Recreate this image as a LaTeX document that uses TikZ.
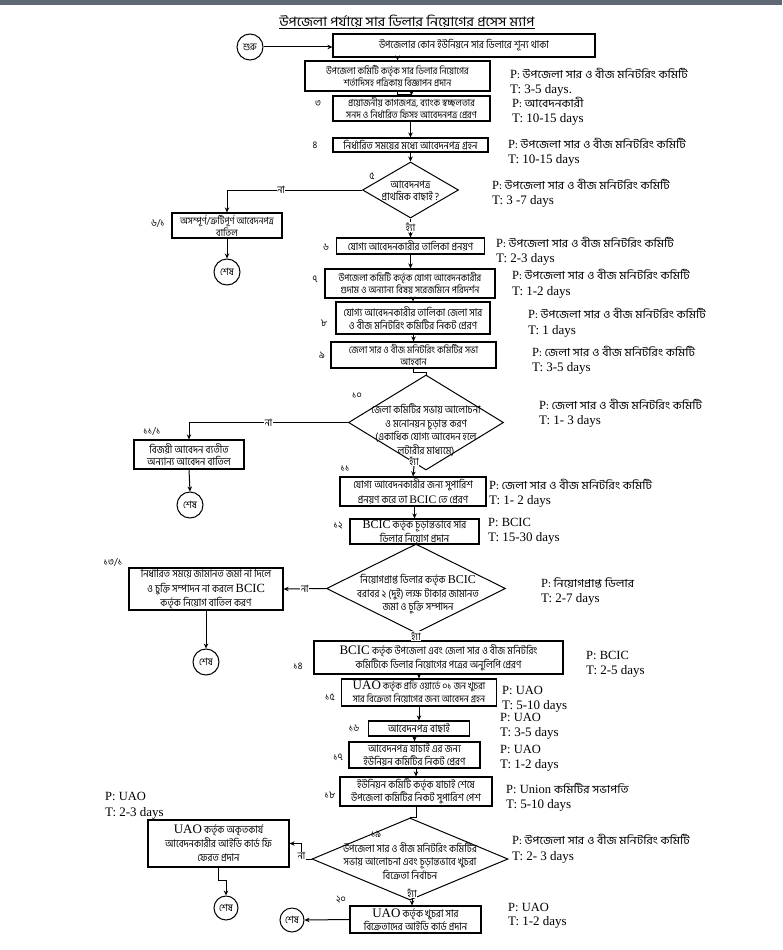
\documentclass[tikz,border=0pt]{standalone}
\usepackage{fontspec}
\setmainfont{Liberation Serif}
\newfontfamily\bn[Script=Bengali,FakeStretch=0.9]{Hind Siliguri}
\newfontfamily\bnw[Script=Bengali,FakeStretch=1.1]{Hind Siliguri}
\usetikzlibrary{arrows.meta,shapes.geometric,calc}
\newcommand\bs{\bn\fontsize{10.5}{12.5}\selectfont}
\newcommand\bss{\bn\fontsize{9.8}{12}\selectfont}
\newcommand\bp{\bnw\fontsize{11}{13}\selectfont}
\newcommand\lat[2][11]{{\rmfamily\fontsize{#1}{#1}\selectfont #2}}
\begin{document}
\begin{tikzpicture}[x=1pt,y=-1pt,
  box/.style={draw, line width=1.2pt, inner sep=0pt, align=center, font=\bs},
  dia/.style={draw, diamond, line width=1pt, inner sep=0pt},
  dtxt/.style={align=center, inner sep=0pt, font=\bs},
  term/.style={draw, circle, line width=1pt, minimum size=26pt, inner sep=0pt, font=\bn\fontsize{10}{10}\selectfont},
  conn/.style={line width=1pt},
  arr/.style={conn, -{Stealth[length=5pt,width=4.5pt]}},
  yn/.style={fill=white, inner sep=0.6pt, font=\bn\fontsize{10}{10}\selectfont},
  num/.style={inner sep=0pt, font=\bn\fontsize{10}{10}\selectfont},
  plab/.style={anchor=base west, inner sep=0pt, font=\fontsize{12.5}{13}\selectfont},
  tlab/.style={anchor=base west, inner sep=0pt, font=\fontsize{13}{14}\selectfont}]
\useasboundingbox (0,0) rectangle (782,950);
\fill[fill={rgb,255:red,96;green,104;blue,118}] (0,0) rectangle (782,5);

\node[inner sep=0pt, font=\bnw\fontsize{13}{15}\selectfont] (title) at (407,22) {\underline{উপজেলা পর্যায়ে সার ডিলার নিয়োগের প্রসেস ম্যাপ}};

% terminals
\node[term] (start) at (250,47) {শুরু};
\node[term] (end1) at (227,272) {শেষ};
\node[term] (end2) at (190,505) {শেষ};
\node[term] (end3) at (206,662) {শেষ};
\node[term, minimum size=24pt] (end4) at (226,908) {শেষ};
\node[term, minimum size=24pt] (end5) at (292,920) {শেষ};

% boxes
\node[box, minimum width=262, minimum height=23] (b1) at (464,45.5) {উপজেলার কোন ইউনিয়নে সার ডিলারে শূন্য থাকা};
\node[box, font=\bss, minimum width=185, minimum height=30] (b2) at (397.5,76) {উপজেলা কমিটি কর্তৃক সার ডিলার নিয়োগের\\শর্তাদিসহ পত্রিকায় বিজ্ঞাপন প্রদান};
\node[box, font=\bss, minimum width=157, minimum height=25] (b3) at (411.5,108.5) {প্রয়োজনীয় কাগজপত্র, ব্যাংক স্বচ্ছলতার\\সনদ ও নির্ধারিত ফিসহ আবেদনপত্র প্রেরণ};
\node[box, minimum width=155, minimum height=14] (b4) at (410.5,145) {নির্ধারিত সময়ের মধ্যে আবেদনপত্র গ্রহন};
\node[dia, minimum width=96, minimum height=56] (d5) at (410.5,190) {};
\node[dtxt] (d5t) at (410.5,191) {আবেদনপত্র\\প্রাথমিক বাছাই ?};
\node[box, font=\bss, minimum width=110, minimum height=25] (b61) at (227,225.5) {অসম্পূর্ণ/ত্রুটিপূর্ণ আবেদনপত্র\\বাতিল};
\node[box, minimum width=148, minimum height=16] (b6) at (410.5,246) {যোগ্য আবেদনকারীর তালিকা প্রনয়ণ};
\node[box, font=\bss, minimum width=170, minimum height=29] (b7) at (410,283.5) {উপজেলা কমিটি কর্তৃক যোগ্য আবেদনকারীর\\গুদাম ও অন্যান্য বিষয় সরেজমিনে পরিদর্শন};
\node[box, minimum width=154, minimum height=32] (b8) at (413,318) {যোগ্য আবেদনকারীর তালিকা জেলা সার\\ও বীজ মনিটরিং কমিটির নিকট প্রেরণ};
\node[box, font=\bss, minimum width=165, minimum height=26] (b9) at (413.5,355) {জেলা সার ও বীজ মনিটরিং কমিটির সভা\\আহবান};
\node[dia, minimum width=155, minimum height=95] (d10) at (426,422.5) {};
\node[dtxt, font=\bn\fontsize{10.5}{13.5}\selectfont] (d10t) at (426,430) {জেলা  কমিটির সভায় আলোচনা\\ও মনোনয়ন চূড়ান্ত করণ\\(একাধিক যোগ্য আবেদন হলে\\লটারীর মাধ্যমে)};
\node[box, minimum width=110, minimum height=29] (b111) at (189,454.5) {বিজয়ী আবেদন ব্যতীত\\অন্যান্য আবেদন বাতিল};
\node[box, font=\bn\fontsize{10.5}{14.5}\selectfont, minimum width=146, minimum height=29] (b11) at (413,491.5) {যোগ্য আবেদনকারীর জন্য সুপারিশ\\প্রনয়ণ করে তা \lat[11.5]{BCIC} তে প্রেরণ};
\node[box, font=\bn\fontsize{10.5}{13.5}\selectfont, minimum width=129, minimum height=25] (b12) at (414.5,531.5) {\lat[12]{BCIC} কর্তৃক চূড়ান্তভাবে সার\\ডিলার নিয়োগ প্রদান};
\node[dia, minimum width=179, minimum height=89] (d13) at (416,588.5) {};
\node[dtxt, font=\bn\fontsize{10.5}{13.5}\selectfont] (d13t) at (418,594) {নিয়োগপ্রাপ্ত ডিলার কর্তৃক \lat[12]{BCIC}\\বরাবর ২ (দুই)  লক্ষ টাকার জামানত\\জমা ও চুক্তি সম্পাদন};
\node[box, font=\bn\fontsize{10.5}{14.5}\selectfont, minimum width=154, minimum height=42] (b131) at (206,589) {নির্ধারিত সময়ে জামানত জমা না দিলে\\ও চুক্তি সম্পাদন না করলে \lat[12.5]{BCIC}\\কর্তৃক নিয়োগ বাতিল করণ};
\node[box, font=\bn\fontsize{10.5}{14}\selectfont, minimum width=249, minimum height=33] (b14) at (438.5,657.5) {\lat[13]{BCIC} কর্তৃক উপজেলা এবং জেলা সার ও বীজ মনিটরিং\\কমিটিকে ডিলার নিয়োগের পত্রের অনুলিপি প্রেরণ};
\node[box, font=\bn\fontsize{9.8}{13}\selectfont, minimum width=155, minimum height=27] (b15) at (419,692.5) {\lat[13]{UAO} কর্তৃক প্রতি ওয়ার্ডে ০১ জন খুচরা\\সার বিক্রেতা নিয়োগের জন্য আবেদন গ্রহন};
\node[box, minimum width=101, minimum height=15] (b16) at (419,728.5) {আবেদনপত্র বাছাই};
\node[box, minimum width=131, minimum height=26] (b17) at (414.5,755) {আবেদনপত্র যাচাই এর জন্য\\ইউনিয়ন কমিটির নিকট প্রেরণ};
\node[box, minimum width=152, minimum height=29] (b18) at (416,791.5) {ইউনিয়ন কমিটি কর্তৃক যাচাই শেষে\\উপজেলা কমিটির নিকট সুপারিশ পেশ};
\node[dia, minimum width=196, minimum height=82] (d19) at (410,859) {};
\node[dtxt, font=\bn\fontsize{10.5}{13.5}\selectfont] (d19t) at (410,861) {উপজেলা সার ও বীজ মনিটরিং কমিটির\\সভায় আলোচনা এবং চূড়ান্তভাবে খুচরা\\বিক্রেতা নির্বাচন};
\node[box, font=\bn\fontsize{10.5}{14}\selectfont, minimum width=141, minimum height=47] (b191) at (218.5,843.5) {\lat[13]{UAO} কর্তৃক অকৃতকার্য\\আবেদনকারীর আইডি কার্ড ফি\\ফেরত প্রদান};
\node[box, font=\bn\fontsize{10.5}{13.5}\selectfont, minimum width=131, minimum height=27] (b20) at (415.5,919.5) {\lat[13]{UAO} কর্তৃক খুচরা সার\\বিক্রেতাদের আইডি কার্ড প্রদান};

% step numbers
\node[num] (n3) at (318,104) {৩};
\node[num] (n4) at (315,145) {৪};
\node[num] (n5) at (372,176) {৫};
\node[num] (n61) at (158,223) {৬/১};
\node[num] (n6) at (326,247) {৬};
\node[num] (n7) at (315,279) {৭};
\node[num] (n8) at (324,323) {৮};
\node[num] (n9) at (322,355) {৯};
\node[num] (n10) at (357,396) {১০};
\node[num] (n111) at (152,431) {১১/১};
\node[num] (n11) at (345,469) {১১};
\node[num] (n12) at (338,526) {১২};
\node[num] (n131) at (113,562) {১৩/১};
\node[num] (n14) at (298,666) {১৪};
\node[num] (n15) at (330,697) {১৫};
\node[num] (n16) at (354,728) {১৬};
\node[num] (n17) at (338,757) {১৭};
\node[num] (n18) at (330,795) {১৮};
\node[num] (n19) at (376,834) {১৯};
\node[num] (n20) at (341,900) {২০};

% connectors
\draw[arr] (start.east) -- (start.east -| b1.west);
\draw[arr] (b1.south -| b2.north) -- (b2.north);
\draw[arr] (b2.south) -- ++(0,3) -| (b3.north);
\draw[arr] (b3.south -| b4.north) -- (b4.north);
\draw[arr] (b4.south) -- (d5.north);
\draw[arr] (d5.south) -- (b6.north) node[yn, pos=0.45] {হ্যাঁ};
\draw[arr] (d5.west) -| (b61.north) node[yn, pos=0.3] {না};
\draw[arr] (b61.south) -- (end1.north);
\draw[arr] (b6.south) -- (b6.south |- b7.north);
\draw[arr] (b8.north |- b7.south) -- (b8.north);
\draw[arr] (b9.north |- b8.south) -- (b9.north);
\draw[conn] (b9.south) -- ++(0,4) -| (d10.north);
\draw[arr] (d10.west) -| (b111.north) node[yn, pos=0.25] {না};
\draw[arr] (b111.south) -- (end2.north);
\node[yn] (y10) at (414,461) {হ্যাঁ};
\draw[arr] (y10.south) -- (b11.north);
\draw[arr] (b12.north |- b11.south) -- (b12.north);
\draw[conn] (b12.south) -- (b12.south -| d13.north) -- (d13.north);
\draw[arr] (d13.west) -- (b131.east) node[yn, pos=0.5] {না};
\draw[arr] (b131.south) -- (end3.north);
\draw[arr] (d13.south) -- (d13.south |- b14.north) node[yn, pos=0.4] {হ্যাঁ};
\draw[arr] (b15.north |- b14.south) -- (b15.north);
\draw[arr] (b16.north |- b15.south) -- (b16.north);
\draw[arr] (b16.south -| b17.north) -- (b17.north);
\draw[arr] (b18.north |- b17.south) -- (b18.north);
\draw[conn] (b18.south) -- (b18.south |- d19.north) -- (d19.north);
\draw[arr] (d19.west) -- ++(-10,0) |- (b191.east) node[yn, pos=0.1] {না};
\draw[arr] (b191.south) -- ++(0,13) -| (end4.north);
\node[yn] (y19) at (412,893) {হ্যাঁ};
\draw[arr] (y19.south) -- (y19.south |- b20.north);
\draw[arr] (b20.west) -- (end5.east);

% P / T labels (baselines)
\node[plab] (p2) at (510,78) {P\bp: উপজেলা সার ও বীজ মনিটরিং কমিটি};
\node[tlab] (t2) at (510,93) {T: 3-5 days.};
\node[plab] (p3) at (512,107) {P\bp: আবেদনকারী};
\node[tlab] (t3) at (512,122) {T: 10-15 days};
\node[plab] (p4) at (508,148) {P\bp: উপজেলা সার ও বীজ মনিটরিং  কমিটি};
\node[tlab] (t4) at (508,163) {T: 10-15 days};
\node[plab] (p5) at (492,189) {P\bp: উপজেলা সার ও বীজ মনিটরিং  কমিটি};
\node[tlab] (t5) at (492,204) {T: 3 -7 days};
\node[plab] (p6) at (496,247) {P\bp: উপজেলা সার ও বীজ মনিটরিং  কমিটি};
\node[tlab] (t6) at (496,262) {T: 2-3 days};
\node[plab] (p7) at (512,279) {P\bp: উপজেলা সার ও বীজ মনিটরিং  কমিটি};
\node[tlab] (t7) at (512,295) {T: 1-2 days};
\node[plab] (p8) at (528,318) {P\bp: উপজেলা সার ও বীজ মনিটরিং  কমিটি};
\node[tlab] (t8) at (528,334) {T: 1 days};
\node[plab] (p9) at (532,356) {P\bp: জেলা সার ও বীজ মনিটরিং  কমিটি};
\node[tlab] (t9) at (532,371) {T: 3-5 days};
\node[plab] (p10) at (539,409) {P\bp: জেলা সার ও বীজ মনিটরিং  কমিটি};
\node[tlab] (t10) at (539,424) {T: 1- 3 days};
\node[plab] (p11) at (489,489) {P\bp: জেলা সার ও বীজ মনিটরিং  কমিটি};
\node[tlab] (t11) at (489,504) {T: 1- 2 days};
\node[plab] (p12) at (488,526) {P: BCIC};
\node[tlab] (t12) at (488,541) {T: 15-30 days};
\node[plab] (p13) at (541,587) {P\bp: নিয়োগপ্রাপ্ত ডিলার};
\node[tlab] (t13) at (541,602) {T: 2-7 days};
\node[plab] (p14) at (586,659) {P: BCIC};
\node[tlab] (t14) at (586,674) {T: 2-5 days};
\node[plab] (p15) at (502,694) {P: UAO};
\node[tlab] (t15) at (502,709) {T: 5-10 days};
\node[plab] (p16) at (500,721) {P: UAO};
\node[tlab] (t16) at (500,736) {T: 3-5 days};
\node[plab] (p17) at (500,753) {P: UAO};
\node[tlab] (t17) at (500,768) {T: 1-2 days};
\node[plab] (p18) at (506,793) {P: Union {\bp কমিটির সভাপতি}};
\node[tlab] (t18) at (506,808) {T: 5-10 days};
\node[plab] (p19) at (512,844) {P\bp: উপজেলা সার ও বীজ মনিটরিং  কমিটি};
\node[tlab] (t19) at (512,860) {T: 2- 3 days};
\node[plab] (p191) at (105,800) {P: UAO};
\node[tlab] (t191) at (105,816) {T: 2-3 days};
\node[plab] (p20) at (508,911) {P: UAO};
\node[tlab] (t20) at (508,925) {T: 1-2 days};
\end{tikzpicture}
\end{document}
